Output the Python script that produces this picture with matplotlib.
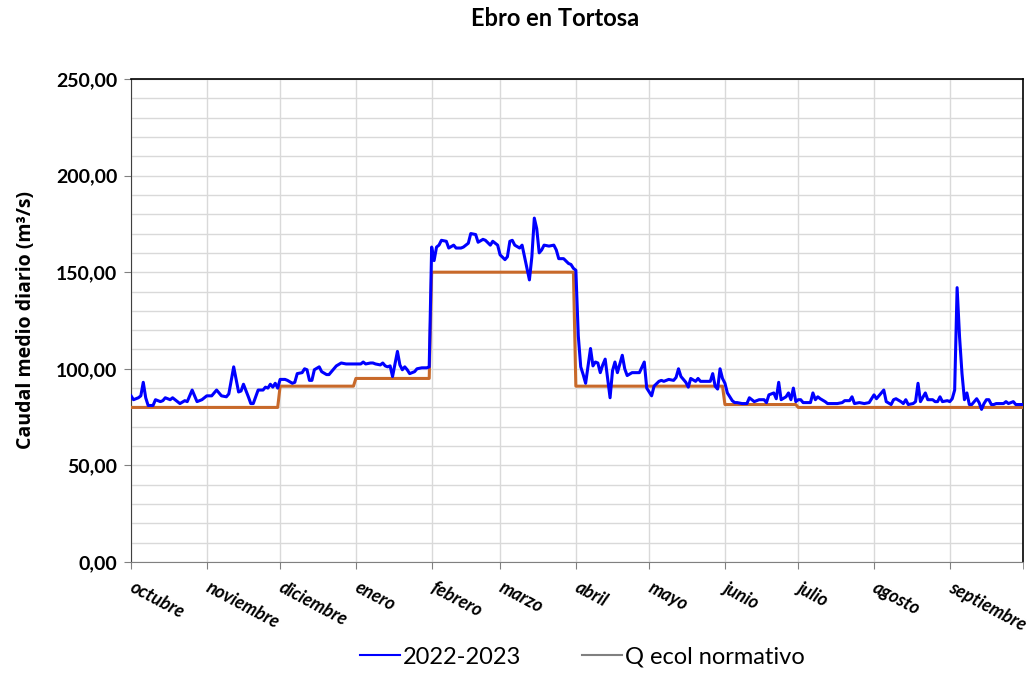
import numpy as np
import matplotlib
matplotlib.use("Agg")
import matplotlib.pyplot as plt
import matplotlib.transforms as mtransforms
from matplotlib.lines import Line2D
from matplotlib.ticker import FuncFormatter, MultipleLocator

plt.rcParams['font.family'] = ['Lato', 'DejaVu Sans']

months = ['octubre', 'noviembre', 'diciembre', 'enero', 'febrero', 'marzo',
          'abril', 'mayo', 'junio', 'julio', 'agosto', 'septiembre']
month_days = [31, 30, 31, 31, 28, 31, 30, 31, 30, 31, 31, 30]
# caudal ecológico normativo por mes (m3/s)
q_ecol = [80, 80, 91, 95, 150, 150, 91, 91, 81.5, 80, 80, 80]

# caudal medio diario 2022-2023 (día del año hidrológico, valor)
days = [0, 1, 3, 4, 5, 6, 7, 9, 10, 12, 13, 14, 16, 17, 19, 20, 22, 23, 25, 27, 29, 31,
        33, 35, 37, 39, 40, 42, 44, 45, 46, 48, 49, 50, 52, 54, 55, 56, 57, 58, 59, 60, 61,
        63, 64, 66, 67, 68, 70, 71, 72, 73, 74, 75, 77, 78, 80, 81, 83, 84, 86, 88, 90, 92,
        94, 95, 96, 98, 99, 100, 102, 103, 104, 105, 106, 107, 109, 110, 111, 112, 113, 114,
        116, 117, 119, 121, 122,
        123, 124, 125, 126, 127, 129, 130, 132, 133, 135, 136, 138, 139, 141, 142, 144, 145,
        147, 148, 150, 151,
        153, 154, 155, 156, 157, 159, 160, 161, 163, 164, 165, 166, 167, 168, 169, 171, 173,
        174, 175, 177, 179, 180, 181, 182,
        183, 184, 185, 186, 188, 189, 190, 191, 192, 193, 194, 196, 197, 198, 199, 201, 202,
        203, 205, 206, 208, 210, 211,
        213, 214, 216, 217, 218, 220, 222, 223, 224, 225, 227, 228, 229, 231, 232, 233, 235,
        237, 238, 239, 240, 241, 242, 243,
        244, 246, 247, 248, 250, 252, 253, 255, 256, 257, 259, 260, 261, 263, 264, 265, 266,
        268, 269, 270, 271, 272, 273, 274,
        275, 276, 278, 279, 280, 281, 282, 284, 285, 287, 289, 291, 292, 294, 295, 296, 298,
        300, 302,
        304, 305, 308, 309, 311, 312, 313, 315, 316, 317, 318, 320, 321, 322, 323, 325, 326,
        328, 329, 330, 331, 332, 334, 335,
        336, 337, 338, 339, 340, 341, 342, 343, 344, 346, 347, 348, 349, 350, 351, 352, 353,
        354, 356, 357, 358, 359, 360, 361, 362, 364, 365]
caudal = [86, 84, 85, 86, 93, 85, 81, 81, 84, 83, 83.5, 85, 84, 85, 83, 82, 83.5, 83, 89, 83, 84, 86,
          86, 89, 86, 85.5, 87, 101, 88, 88.5, 92, 85.5, 82, 82, 89, 89, 90.5, 90, 92, 90.5, 92.5, 90, 94.5,
          94.5, 94, 92.5, 93, 97.5, 98, 100, 99.5, 94, 94, 99.5, 101, 98.5, 97, 97, 100, 101.5, 103, 102.5, 102.5, 102.5,
          102.5, 103.5, 102.5, 103, 103, 102.5, 102, 103, 101.5, 101, 101.5, 96, 109, 102, 99.5, 101, 99.5, 97.5,
          98.5, 100, 100.5, 100.5, 101,
          163, 156, 163, 164, 166.5, 166, 162.5, 164, 162.5, 162.5, 163, 165, 170, 169.5, 165.5, 167, 166.5,
          164, 166, 164, 159,
          156.5, 158, 166, 166.5, 164, 162.5, 164, 158, 146, 158, 178, 172.5, 160, 161.5, 164, 163.5, 164,
          161.5, 157, 157, 154.5, 154, 152, 151,
          117, 101, 97, 92.5, 110.5, 101.5, 103.5, 103, 98, 102, 105, 85, 99, 103.5, 98, 107, 100,
          96.5, 98, 98, 98, 103.5, 90,
          86, 91, 93.5, 94, 93.5, 94.5, 94, 95.5, 100, 96, 93, 90.5, 95, 93.5, 95, 93.5, 93.5,
          93.5, 97.5, 91, 89.5, 100, 95, 92.5,
          87.5, 83.5, 82.5, 82.5, 82, 82, 85, 83, 83.5, 84, 84, 82.5, 86.5, 87.5, 84.5, 93, 84,
          85.5, 87.5, 84, 90, 83, 84, 84,
          82.5, 82.5, 82.5, 87.5, 84, 85.5, 84.5, 83, 82, 82, 82, 82.5, 83.5, 83.5, 85.5, 82, 82.5,
          82, 82.5,
          86.5, 84.5, 89, 83, 81.5, 84, 84.5, 83, 82, 84, 81.5, 82, 83, 92.5, 83, 87.5, 84,
          84, 83, 83, 85.5, 83, 83.5, 83,
          84.5, 89, 142, 116.5, 97.5, 84, 87.5, 81.5, 81.5, 84.5, 82.5, 79, 82, 84, 84, 81.5, 81.5,
          82, 82, 82, 83, 82, 82.5, 83, 81.5, 81.5, 81.5]

month_start = np.concatenate([[0], np.cumsum(month_days)])
q_daily = np.repeat(q_ecol, month_days)
q_daily = np.append(q_daily, q_daily[-1])

fig = plt.figure(figsize=(10.27, 6.74), dpi=100)
ax = fig.add_axes([0.1276, 0.1662, 0.8686, 0.7166])

ax.plot(np.arange(len(q_daily)), q_daily, color='#C8692A', lw=2.2, zorder=3)
ax.plot(days, caudal, color='#0000FF', lw=2.2, zorder=4)

ax.set_xlim(0, 365)
ax.set_ylim(0, 250)
ax.yaxis.set_major_locator(MultipleLocator(50))
ax.yaxis.set_minor_locator(MultipleLocator(10))
ax.yaxis.set_major_formatter(FuncFormatter(lambda v, p: f"{v:.2f}".replace('.', ',')))
ax.grid(True, which='both', axis='y', color='#D9D9D9', lw=1)
ax.set_xticks(month_start[:-1])
ax.set_xticks([365], minor=True)
ax.grid(True, which='major', axis='x', color='#D9D9D9', lw=1)
ax.set_axisbelow(True)
ax.tick_params(axis='y', which='minor', length=0)
ax.tick_params(axis='y', which='major', length=5, color='#808080', labelsize=14, pad=5)
ax.tick_params(axis='x', which='both', length=5, color='#808080', pad=7)
ax.set_xticklabels(months, rotation=-28, ha='left', va='top', rotation_mode='anchor',
                   fontsize=13, fontweight='bold', fontstyle='italic')
shift = mtransforms.ScaledTranslation(4 / 100, 0, fig.dpi_scale_trans)
for lab in ax.get_xticklabels():
    lab.set_transform(lab.get_transform() + shift)
for lab in ax.get_yticklabels():
    lab.set_fontweight('bold')

for s in ['top', 'right']:
    ax.spines[s].set_color('black')
    ax.spines[s].set_linewidth(1.2)
ax.spines['left'].set_color('#404040')
ax.spines['bottom'].set_color('#808080')

ax.set_ylabel('Caudal medio diario (m³/s)', fontsize=14, fontweight='bold', labelpad=14,
              family=['Open Sans', 'DejaVu Sans'])
fig.text(0.54, 0.972, 'Ebro en Tortosa', fontsize=17, fontweight='bold',
         ha='center', va='center')

handles = [Line2D([], [], color='#0000FF', lw=1.5),
           Line2D([], [], color='#808080', lw=1.5)]
fig.legend(handles, ['2022-2023', 'Q ecol normativo'], loc='lower center',
           bbox_to_anchor=(0.567, -0.022), ncol=2, frameon=False, fontsize=17,
           handlelength=1.7, handletextpad=0.1, columnspacing=2.6)

fig.savefig('out.png', dpi=100)
